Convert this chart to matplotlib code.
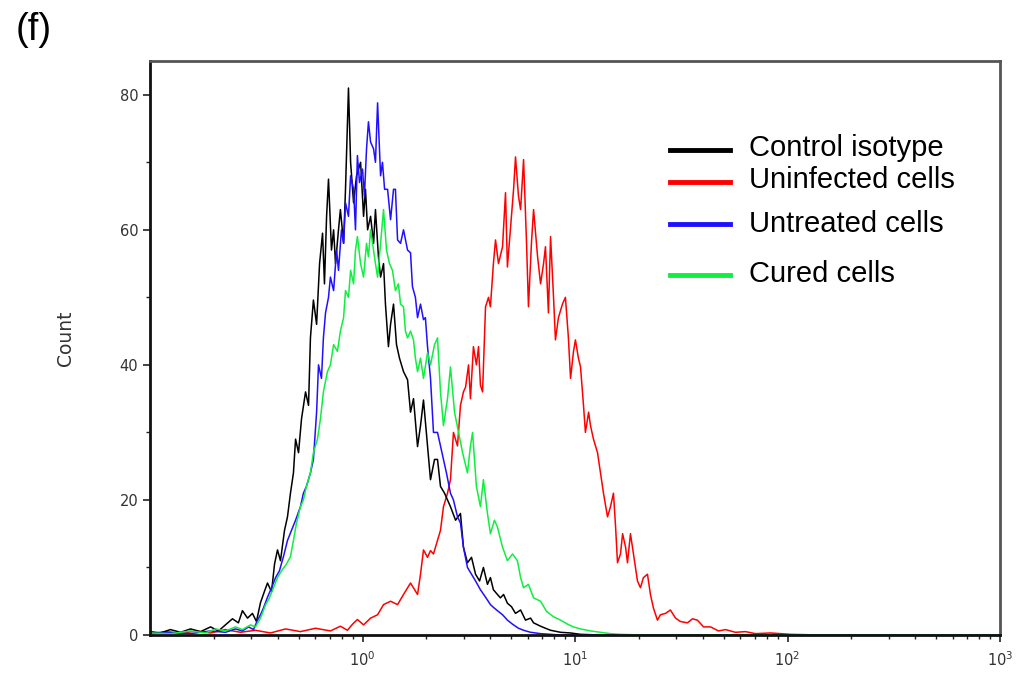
import numpy as np
import matplotlib
matplotlib.use("Agg")
import matplotlib.pyplot as plt
from matplotlib.ticker import LogLocator, NullFormatter, MultipleLocator

# fluorescence given as log10 exponent, counts
black_exp = [-1.0, -0.951, -0.904, -0.856, -0.809, -0.762, -0.715, -0.678, -0.645, -0.612, -0.584, -0.565, -0.541,
             -0.518, -0.499, -0.480, -0.461, -0.447, -0.428, -0.414, -0.400, -0.386, -0.367, -0.353, -0.339, -0.325,
             -0.315, -0.301, -0.287, -0.268, -0.254, -0.245, -0.231, -0.216, -0.202, -0.188, -0.179, -0.169, -0.160,
             -0.146, -0.136, -0.127, -0.113, -0.104, -0.089, -0.080, -0.066, -0.056, -0.042, -0.028, -0.009, 0.005,
             0.014, 0.024, 0.038, 0.052, 0.061, 0.075, 0.085, 0.099, 0.108, 0.122, 0.132, 0.146, 0.160, 0.174, 0.193,
             0.212, 0.226, 0.240, 0.259, 0.273, 0.287, 0.306, 0.320, 0.339, 0.353, 0.367, 0.386, 0.400, 0.414, 0.438,
             0.461, 0.475, 0.494, 0.513, 0.532, 0.551, 0.569, 0.588, 0.602, 0.616, 0.635, 0.649, 0.664, 0.682, 0.701,
             0.720, 0.744, 0.767, 0.791, 0.805, 0.838, 0.861, 0.885, 0.932, 0.979, 1.026, 1.12, 3.0]
black_cnt = [0.5, 0.3, 0.8, 0.4, 0.9, 0.5, 1.2, 0.6, 1.5, 2.4, 1.8, 3.6, 2.5,
             3.2, 2.0, 4.8, 6.5, 7.7, 6.4, 10.5, 12.6, 11.0, 15.5, 17.5, 21.0, 24.0,
             29.0, 27.0, 32.0, 36.0, 34.0, 44.0, 49.6, 46.0, 55.0, 59.5, 52.0, 62.0, 67.5,
             57.0, 60.0, 55.0, 60.0, 63.0, 58.0, 66.0, 81.0, 70.0, 64.0, 68.0, 70.0, 62.0,
             66.0, 60.0, 62.0, 58.0, 63.0, 56.0, 53.0, 55.0, 49.0, 42.7, 46.0, 49.0, 43.0, 41.0, 39.0,
             37.8, 33.0, 35.0, 27.9, 31.0, 34.8, 28.0, 23.0, 26.0, 26.0, 22.0, 21.0, 20.0, 19.0, 17.0,
             18.0, 13.0, 10.7, 11.5, 9.0, 8.0, 10.0, 7.5, 8.5, 6.7, 6.0, 5.5, 6.0, 4.7, 4.2,
             3.2, 3.7, 2.2, 2.5, 1.8, 1.3, 1.0, 0.7, 0.4, 0.3, 0.1, 0.0, 0.0]

blue_exp = [-1.0, -0.904, -0.809, -0.715, -0.645, -0.598, -0.565, -0.536, -0.513, -0.494, -0.480, -0.466, -0.447,
            -0.428, -0.409, -0.391, -0.372, -0.353, -0.334, -0.315, -0.292, -0.278, -0.264, -0.245, -0.231, -0.216,
            -0.207, -0.193, -0.184, -0.174, -0.160, -0.151, -0.136, -0.122, -0.113, -0.099, -0.089, -0.080, -0.066,
            -0.056, -0.042, -0.033, -0.024, -0.014, 0.0, 0.009, 0.019, 0.028, 0.038, 0.052, 0.061, 0.071, 0.085,
            0.094, 0.104, 0.118, 0.132, 0.146, 0.155, 0.165, 0.179, 0.193, 0.212, 0.226, 0.235, 0.249, 0.259, 0.273,
            0.287, 0.296, 0.306, 0.320, 0.334, 0.353, 0.367, 0.381, 0.395, 0.414, 0.428, 0.447, 0.461, 0.475, 0.494,
            0.513, 0.532, 0.555, 0.579, 0.602, 0.616, 0.635, 0.659, 0.682, 0.706, 0.734, 0.758, 0.791, 0.838, 0.885,
            0.932, 3.0]
blue_cnt = [0.2, 0.4, 0.2, 0.6, 0.4, 0.9, 0.6, 1.2, 0.8, 2.2, 3.0, 4.0, 5.6,
            7.0, 8.5, 9.5, 11.6, 14.0, 15.5, 17.0, 19.0, 21.0, 22.0, 24.0, 26.0, 33.0,
            40.0, 38.0, 44.0, 47.7, 50.0, 53.0, 51.0, 57.0, 54.0, 60.0, 58.0, 64.0, 62.0,
            68.0, 66.0, 60.0, 71.0, 67.0, 69.0, 65.0, 72.0, 76.0, 73.0, 72.0, 70.0, 78.8, 68.0,
            70.0, 66.0, 66.0, 61.5, 66.0, 66.0, 58.5, 58.0, 60.0, 57.0, 56.6, 51.6, 50.0, 47.0, 49.0,
            46.7, 47.0, 42.7, 38.0, 30.0, 30.0, 28.0, 26.0, 24.0, 21.0, 20.0, 17.5, 16.6, 13.0, 10.0,
            9.0, 8.0, 6.7, 5.6, 4.5, 4.1, 3.6, 3.0, 2.2, 1.6, 1.0, 0.7, 0.4, 0.2, 0.1,
            0.0, 0.0]

green_exp = [-1.0, -0.904, -0.809, -0.739, -0.692, -0.645, -0.598, -0.565, -0.527, -0.504, -0.480, -0.456, -0.438,
             -0.419, -0.400, -0.381, -0.358, -0.339, -0.325, -0.311, -0.292, -0.278, -0.264, -0.245, -0.231, -0.212,
             -0.198, -0.184, -0.165, -0.151, -0.136, -0.118, -0.104, -0.089, -0.080, -0.066, -0.056, -0.042, -0.033,
             -0.024, -0.009, 0.005, 0.019, 0.028, 0.038, 0.052, 0.061, 0.071, 0.085, 0.099, 0.113, 0.127, 0.141,
             0.155, 0.169, 0.179, 0.193, 0.202, 0.212, 0.226, 0.240, 0.249, 0.259, 0.273, 0.287, 0.306, 0.320, 0.339,
             0.353, 0.367, 0.381, 0.400, 0.414, 0.433, 0.452, 0.471, 0.494, 0.508, 0.518, 0.536, 0.555, 0.569, 0.588,
             0.602, 0.621, 0.635, 0.659, 0.682, 0.706, 0.729, 0.744, 0.758, 0.781, 0.805, 0.838, 0.866, 0.899, 0.932,
             0.965, 0.993, 1.026, 1.073, 1.120, 1.167, 1.214, 1.308, 3.0]
green_cnt = [0.3, 0.2, 0.6, 0.3, 0.9, 0.6, 1.2, 0.8, 1.5, 1.2, 2.5, 4.5, 5.5,
             7.0, 8.5, 9.5, 10.5, 11.6, 14.0, 16.5, 19.0, 20.0, 22.0, 24.0, 27.0, 29.0,
             32.0, 36.0, 39.0, 40.0, 43.0, 42.0, 45.0, 47.0, 51.0, 50.0, 54.0, 52.0, 57.0,
             59.0, 55.0, 53.0, 58.0, 56.0, 60.0, 57.0, 55.0, 53.0, 58.0, 63.0, 57.0, 55.0, 54.0,
             51.0, 52.0, 49.0, 48.6, 45.0, 44.0, 45.0, 43.7, 41.0, 39.0, 41.0, 38.0, 41.8, 40.0, 43.0,
             44.0, 36.0, 31.0, 35.0, 39.7, 33.0, 30.0, 27.0, 24.0, 28.0, 30.0, 22.0, 19.0, 23.0, 18.0,
             15.0, 17.0, 16.0, 13.0, 11.0, 12.0, 11.0, 8.5, 7.0, 7.5, 5.5, 5.0, 3.5, 2.7, 2.2,
             1.6, 1.2, 0.9, 0.6, 0.4, 0.2, 0.1, 0.0, 0.0]

red_exp = [-1.0, -0.927, -0.856, -0.786, -0.715, -0.645, -0.574, -0.504, -0.433, -0.362, -0.292, -0.221, -0.151,
           -0.104, -0.071, -0.047, -0.024, 0.005, 0.038, 0.071, 0.099, 0.132, 0.165, 0.193, 0.226, 0.259, 0.273,
           0.287, 0.306, 0.320, 0.334, 0.353, 0.367, 0.381, 0.400, 0.414, 0.428, 0.447, 0.461, 0.475, 0.485, 0.499,
           0.508, 0.522, 0.536, 0.546, 0.555, 0.565, 0.579, 0.593, 0.602, 0.616, 0.626, 0.640, 0.659, 0.673, 0.682,
           0.696, 0.711, 0.720, 0.734, 0.744, 0.758, 0.772, 0.781, 0.795, 0.805, 0.824, 0.838, 0.852, 0.861, 0.875,
           0.885, 0.899, 0.908, 0.922, 0.941, 0.955, 0.969, 0.979, 0.993, 1.002, 1.016, 1.026, 1.040, 1.049, 1.064,
           1.073, 1.087, 1.106, 1.120, 1.134, 1.153, 1.167, 1.181, 1.191, 1.200, 1.214, 1.224, 1.238, 1.247, 1.261,
           1.275, 1.294, 1.308, 1.322, 1.341, 1.355, 1.369, 1.388, 1.402, 1.426, 1.449, 1.473, 1.496, 1.529, 1.553,
           1.576, 1.605, 1.638, 1.675, 1.708, 1.755, 1.802, 1.849, 1.920, 2.014, 2.155, 3.0]
red_cnt = [0.2, 0.5, 0.2, 0.6, 0.3, 0.8, 0.4, 0.7, 0.3, 0.9, 0.5, 1.0, 0.6,
           1.3, 0.7, 1.6, 2.3, 1.5, 2.5, 3.0, 4.5, 5.0, 4.5, 6.0, 7.7, 6.0, 9.0,
           12.6, 11.5, 12.5, 12.0, 14.0, 15.5, 19.0, 21.0, 23.0, 30.0, 28.0, 34.0, 36.0, 36.7, 40.0,
           35.0, 42.7, 40.0, 42.7, 37.0, 36.0, 48.6, 50.0, 48.6, 55.0, 58.5, 55.0, 57.5, 65.5, 54.5,
           60.0, 66.0, 70.8, 65.0, 63.0, 70.4, 58.0, 48.6, 58.0, 63.0, 56.0, 52.0, 55.0, 57.5, 47.7,
           59.0, 50.0, 43.7, 47.0, 49.0, 50.0, 44.0, 38.0, 42.0, 43.7, 41.0, 39.7, 34.0, 30.0, 33.0,
           31.0, 29.0, 27.0, 24.0, 21.0, 17.5, 19.0, 21.0, 16.0, 10.7, 12.0, 15.0, 13.0, 10.7, 15.0,
           12.0, 8.0, 7.0, 8.5, 9.0, 6.0, 4.0, 2.2, 3.0, 3.2, 3.7, 2.5, 2.0, 1.8, 2.4,
           2.2, 1.2, 1.2, 0.6, 0.8, 0.4, 0.5, 0.2, 0.3, 0.1, 0.0, 0.0]

labels = ["Control isotype", "Uninfected cells", "Untreated cells", "Cured cells"]
colors = ["black", "#ff0000", "#2010ff", "#10ee40"]

fig = plt.figure(figsize=(10.23, 6.74), dpi=100)
ax = fig.add_axes([150 / 1023, 1 - 635 / 674, 850 / 1023, 574 / 674])

series = [(black_exp, black_cnt), (red_exp, red_cnt), (blue_exp, blue_cnt), (green_exp, green_cnt)]
# red underneath, then black, blue, green on top
for i in [1, 0, 2, 3]:
    e, c = series[i]
    ax.plot(10 ** np.array(e), c, color=colors[i], lw=1.1)

ax.set_xscale("log")
ax.set_xlim(0.1, 1000)
ax.set_ylim(0, 85)
ax.set_xticks([1, 10, 100, 1000])
ax.xaxis.set_minor_locator(LogLocator(base=10, subs=np.arange(2, 10)))
ax.xaxis.set_minor_formatter(NullFormatter())
ax.set_yticks([0, 20, 40, 60, 80])
ax.yaxis.set_minor_locator(MultipleLocator(10))
ax.tick_params(which="major", length=5, width=1.2, labelsize=10.5, labelcolor="#333333", color="#222222")
ax.tick_params(axis="x", which="major", pad=6)
ax.tick_params(which="minor", length=3, width=1.0, color="#222222")

for s in ["left", "bottom"]:
    ax.spines[s].set_linewidth(2)
    ax.spines[s].set_color("#111111")
for s in ["top", "right"]:
    ax.spines[s].set_linewidth(2)
    ax.spines[s].set_color("#555555")

fig.text(66 / 1023, 1 - 338 / 674, "Count", rotation=90, ha="center", va="center",
         fontsize=13.5, color="#333333")
fig.text(34 / 1023, 1 - 30 / 674, "(f)", ha="center", va="center", fontsize=27.5,
         family="Liberation Sans")

# legend drawn by hand, rows are not evenly spaced in the original
leg_y = [150, 182, 224, 275]
txt_y = [148, 180, 224, 274]
for lab, col, ly, ty in zip(labels, colors, leg_y, txt_y):
    fig.add_artist(plt.Line2D([670 / 1023, 730 / 1023], [1 - ly / 674, 1 - ly / 674],
                              color=col, lw=3.5))
    fig.text(749 / 1023, 1 - ty / 674, lab, ha="left", va="center", fontsize=21,
             family="Liberation Sans")

fig.savefig("out.png", dpi=100)
